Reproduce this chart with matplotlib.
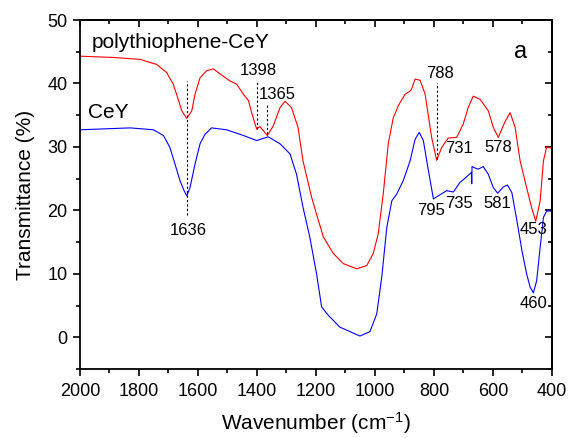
import numpy as np
import matplotlib
matplotlib.use('Agg')
import matplotlib.pyplot as plt
from matplotlib.ticker import MultipleLocator

plt.rcParams['font.family'] = ['Liberation Sans', 'DejaVu Sans']
plt.rcParams['mathtext.fontset'] = 'custom'
plt.rcParams['mathtext.rm'] = 'Liberation Sans'
plt.rcParams['mathtext.it'] = 'Liberation Sans:italic'

# polythiophene-CeY (red)
wn_red = [2000, 1887, 1797, 1740, 1706, 1684, 1667, 1655, 1638, 1621, 1610, 1593, 1571,
          1548, 1525, 1492, 1469, 1446, 1429, 1418, 1401, 1390, 1365, 1345, 1322, 1305,
          1283, 1261, 1244, 1215, 1198, 1175, 1141, 1107, 1062, 1028, 1006, 989, 972, 955,
          938, 921, 898, 881, 876, 864, 847, 830, 808, 791, 774, 752, 723, 701, 684, 667,
          644, 616, 599, 582, 560, 542, 525, 508, 486, 469, 455, 440, 429, 418, 401]
t_red = [44.3, 44.1, 43.8, 43.0, 41.7, 39.9, 37.5, 35.7, 34.5, 35.7, 38.3, 40.9, 42.0,
         42.3, 41.5, 40.4, 39.9, 38.3, 37.3, 35.4, 32.8, 33.2, 31.8, 33.3, 36.2, 37.2,
         36.2, 33.1, 27.8, 22.1, 19.4, 15.8, 13.2, 11.6, 10.8, 11.3, 13.2, 16.3, 22.6, 30.5,
         34.6, 36.5, 38.3, 38.8, 39.1, 40.7, 40.5, 38.3, 31.5, 27.9, 29.9, 31.4, 31.5, 33.6,
         36.2, 38.0, 37.5, 35.7, 33.1, 31.5, 33.9, 35.4, 33.1, 27.8, 23.6, 20.4, 18.3, 21.5,
         27.8, 30.0, 29.8]

# CeY (blue)
wn_blue = [2000, 1830, 1751, 1717, 1695, 1678, 1661, 1647, 1638, 1627, 1610, 1593, 1576,
           1554, 1503, 1446, 1401, 1362, 1322, 1288, 1266, 1244, 1221, 1198, 1181, 1159,
           1119, 1085, 1051, 1017, 994, 977, 960, 943, 926, 904, 881, 864, 850, 836, 819,
           802, 785, 757, 734, 712, 689, 673, 672, 671, 662, 650, 633, 616, 599, 584, 565,
           551, 536, 519, 502, 486, 474, 463, 452, 440, 429, 418, 401]
t_blue = [32.7, 33.0, 32.7, 31.8, 29.9, 27.3, 24.7, 23.1, 22.3, 23.6, 27.3, 30.5, 32.0,
          33.0, 32.7, 31.8, 31.0, 31.6, 30.5, 28.9, 25.7, 20.5, 15.8, 10.0, 4.8, 3.5,
          1.6, 0.9, 0.2, 0.9, 3.7, 9.5, 17.3, 21.5, 22.6, 24.7, 27.8, 31.2, 32.3, 31.0, 26.3,
          21.8, 22.3, 23.1, 22.9, 24.4, 25.3, 26.0, 24.2, 26.9, 26.7, 26.5, 26.9, 25.7, 23.6,
          22.7, 23.7, 24.0, 22.8, 18.4, 13.7, 10.0, 7.9, 7.0, 8.9, 14.2, 18.9, 19.9, 19.9]

# peak labels: (text, x, y)
peak_labels = [('1636', 1634, 16.8), ('1398', 1396, 42.0), ('1365', 1332, 38.2),
               ('788', 780, 41.5), ('731', 715, 29.7), ('578', 583, 29.9),
               ('795', 810, 20.0), ('735', 715, 21.1), ('581', 586, 21.1),
               ('453', 464, 17.0), ('460', 464, 5.3)]
# dashed markers: (x, y_low, y_high)
markers = [(1636, 19.2, 40.4), (1400, 32.9, 40.6), (1366, 32.0, 37.0), (790, 28.1, 40.1)]

fig = plt.figure(figsize=(5.68, 4.38), dpi=100)
ax = fig.add_axes([0.1408, 0.1575, 0.831, 0.7968])

ax.plot(wn_red, t_red, color='#ff0000', linewidth=0.8)
ax.plot(wn_blue, t_blue, color='#0000ff', linewidth=0.8)

for x, y0, y1 in markers:
    ax.plot([x, x], [y0, y1], color='black', linestyle=(0, (2, 2)), linewidth=0.8)

for txt, x, y in peak_labels:
    ax.text(x, y, txt, fontsize=12, ha='center', va='center')

ax.text(1959, 46.5, 'polythiophene-CeY', fontsize=15, ha='left', va='center')
ax.text(1973, 35.4, 'CeY', fontsize=15, ha='left', va='center')
ax.text(508, 45.0, 'a', fontsize=17, ha='center', va='center')

ax.set_xlim(2000, 400)
ax.set_ylim(-5, 50)
ax.xaxis.set_major_locator(MultipleLocator(200))
ax.xaxis.set_minor_locator(MultipleLocator(100))
ax.yaxis.set_major_locator(MultipleLocator(10))
ax.yaxis.set_minor_locator(MultipleLocator(5))

ax.tick_params(which='major', length=5, width=1.2, labelsize=13, pad=4, direction='out')
ax.tick_params(axis='x', which='major', pad=5)
ax.tick_params(which='minor', length=3, width=1.2, direction='out')
for s in ax.spines.values():
    s.set_linewidth(1.3)

# mirrored inward ticks on top/right
sec = ax.secondary_xaxis('top')
sec.xaxis.set_major_locator(MultipleLocator(200))
sec.xaxis.set_minor_locator(MultipleLocator(100))
sec.tick_params(which='major', length=5, width=1.2, direction='in', labeltop=False)
sec.tick_params(which='minor', length=3, width=1.2, direction='in')
sec.spines['top'].set_linewidth(1.3)
secy = ax.secondary_yaxis('right')
secy.yaxis.set_major_locator(MultipleLocator(10))
secy.yaxis.set_minor_locator(MultipleLocator(5))
secy.tick_params(which='major', length=5, width=1.2, direction='in', labelright=False)
secy.tick_params(which='minor', length=3, width=1.2, direction='in')
secy.spines['right'].set_linewidth(1.3)

ax.set_xlabel('Wavenumber (cm$^{\\mathrm{-1}}$)', fontsize=15, labelpad=7)
ax.set_ylabel('Transmittance (%)', fontsize=15, labelpad=9)

fig.savefig('out.png', dpi=100)
